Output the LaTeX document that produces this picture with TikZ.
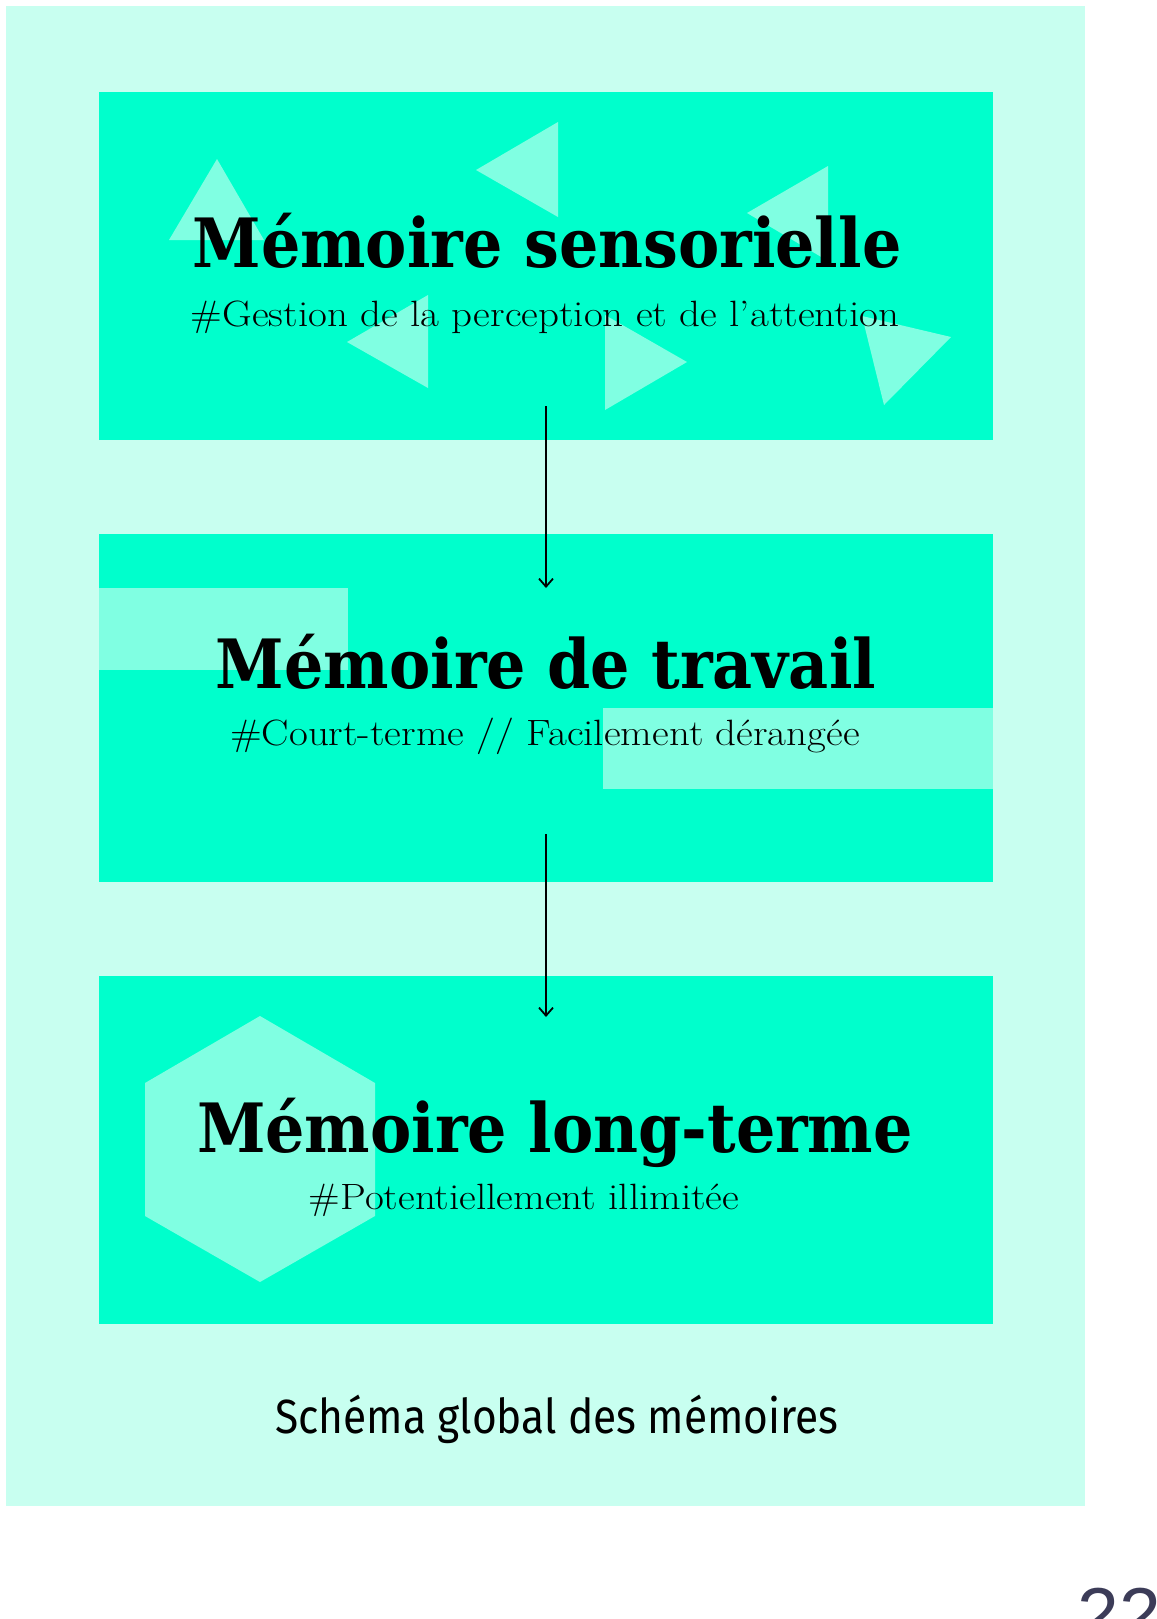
\documentclass[tikz,border=0pt]{standalone}
\usepackage{fontspec}
\newfontfamily\titlefont[FakeStretch=0.91]{DejaVu Serif}
\newfontfamily\subfont[FakeStretch=1.12]{Latin Modern Roman}
\newfontfamily\capfont[FakeStretch=0.885]{Fira Sans}
\newfontfamily\pagefont{Liberation Sans}
\usetikzlibrary{positioning,arrows.meta}

\definecolor{pagebg}{RGB}{200,255,240}
\definecolor{boxfill}{RGB}{0,255,204}
\definecolor{decofill}{RGB}{128,255,226}
\definecolor{pagenum}{RGB}{60,60,88}

\begin{document}
\begin{tikzpicture}[x=0.5pt,y=-0.5pt,
    membox/.style={fill=boxfill,minimum width=447pt,minimum height=174pt,inner sep=0pt,outer sep=0pt},
    deco/.style={fill=decofill},
    memtitle/.style={font=\titlefont\bfseries\fontsize{34}{40}\selectfont,anchor=base,inner sep=0pt},
    memsub/.style={font=\subfont\fontsize{18.3}{22}\selectfont,anchor=base,inner sep=0pt},
    flow/.style={-{Straight Barb[length=4pt,width=7pt]},line width=0.9pt}]
    \useasboundingbox (0,0) rectangle (1157,1619);
    \fill[pagebg] (6,6) rectangle (1085,1506);
    % the three memory boxes
    \node[membox,anchor=north west] (sens) at (99,92) {};
    \node[membox,below=47pt of sens] (trav) {};
    \node[membox,below=47pt of trav] (long) {};
    % light shapes in the boxes
    \fill[deco] (217,159) -- (169,240) -- (264,240) -- cycle;
    \fill[deco] (558,122) -- (558,217) -- (476,170) -- cycle;
    \fill[deco] (828,166) -- (828,261) -- (747,213) -- cycle;
    \fill[deco] (428,295) -- (428,388) -- (347,342) -- cycle;
    \fill[deco] (605,315) -- (605,410) -- (687,362) -- cycle;
    \fill[deco] (862,316) -- (951,337) -- (884,405) -- cycle;
    \fill[deco] (99,588) rectangle (348,670);
    \fill[deco] (603,708) rectangle (993,789);
    \fill[deco] (260,1016) -- (375,1083) -- (375,1216) -- (260,1282)
                -- (145,1216) -- (145,1083) -- cycle;
    % texts
    \node[memtitle] (sens-t) at (547,267) {Mémoire sensorielle};
    \node[memsub] (sens-s) at (545,326) {\#Gestion de la perception et de l’attention};
    \node[memtitle] (trav-t) at (546,688) {Mémoire de travail};
    \node[memsub] (trav-s) at (545,745) {\#Court-terme // Facilement dérangée};
    \node[memtitle] (long-t) at (555,1152) {Mémoire long-terme};
    \node[memsub] (long-s) at (524,1209) {\#Potentiellement illimitée};
    \node[font=\capfont\fontsize{24}{28}\selectfont,anchor=base] (caption) at (557,1433) {Schéma global des mémoires};
    \begin{scope}
        \clip (0,0) rectangle (1157,1619);
        \node[font=\pagefont\fontsize{37.5}{40}\selectfont,text=pagenum,anchor=base west,inner sep=0pt] (pagenr) at (1077,1640) {22};
    \end{scope}
    % arrows
    \draw[flow] ([yshift=17pt]sens.south) -- ([yshift=-27pt]trav.north);
    \draw[flow] ([yshift=24pt]trav.south) -- ([yshift=-20.5pt]long.north);
\end{tikzpicture}
\end{document}
